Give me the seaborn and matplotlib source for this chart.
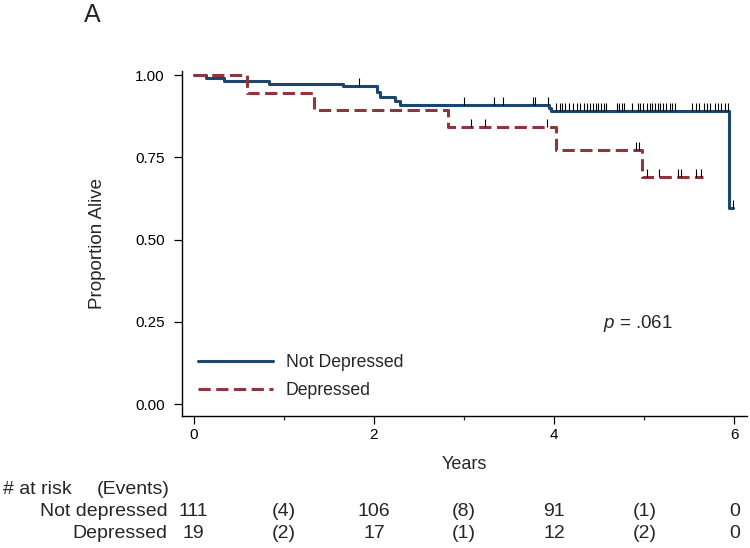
import numpy as np
import pandas as pd
import matplotlib
matplotlib.use('Agg')
import matplotlib.pyplot as plt
import matplotlib.transforms as mtransforms
import seaborn as sns

sns.set_style('ticks')
plt.rcParams['font.family'] = ['Liberation Sans', 'DejaVu Sans']
plt.rcParams['mathtext.fontset'] = 'custom'
plt.rcParams['mathtext.it'] = 'Liberation Sans:italic'
plt.rcParams['mathtext.rm'] = 'Liberation Sans'

# Kaplan-Meier steps
nd_time = [0, 0.14, 0.34, 0.83, 1.66, 2.03, 2.07, 2.23, 2.29, 3.94, 3.97, 5.94, 5.98]
nd_surv = [1.0, 0.991, 0.982, 0.973, 0.966, 0.95, 0.935, 0.92, 0.91, 0.899, 0.89, 0.595, 0.595]
dep_time = [0, 0.59, 1.34, 2.82, 4.02, 4.97, 5.65]
dep_surv = [1.0, 0.947, 0.895, 0.842, 0.772, 0.689, 0.689]

# censoring times
nd_cens = [1.83, 3.00, 3.33, 3.43, 3.77, 3.79, 3.93,
           4.02, 4.06, 4.09, 4.12, 4.16, 4.21, 4.25, 4.29, 4.33, 4.36, 4.40, 4.43,
           4.46, 4.49, 4.52, 4.55, 4.58,
           4.70, 4.72, 4.75, 4.78, 4.86, 4.93, 4.95, 4.99, 5.03, 5.06, 5.09, 5.12,
           5.15, 5.18, 5.21, 5.24, 5.28, 5.31, 5.34,
           5.53, 5.57, 5.61, 5.66, 5.70, 5.73, 5.78, 5.82, 5.85, 5.90, 5.93, 5.98]
dep_cens = [3.08, 3.23, 3.92, 4.91, 4.94, 5.03, 5.16, 5.37, 5.41, 5.57, 5.63]

# risk table
risk_times = [0, 2, 4, 6]
event_times = [1, 3, 5]
nd_risk = [111, 106, 91, 0]
nd_events = [4, 8, 1]
dep_risk = [19, 17, 12, 0]
dep_events = [2, 1, 2]

navy = '#1a476f'
red = '#90353b'


def surv_at(times, surv, t):
    idx = np.searchsorted(times, t, side='right') - 1
    return np.asarray(surv)[idx]


fig = plt.figure(figsize=(7.5, 5.48), dpi=100)
ax = fig.add_axes([0.2427, 0.241, 0.7533, 0.629])

df_nd = pd.DataFrame({'t': nd_time, 's': nd_surv})
df_dep = pd.DataFrame({'t': dep_time, 's': dep_surv})
sns.lineplot(data=df_nd, x='t', y='s', ax=ax, color=navy, lw=2.2,
             drawstyle='steps-post', label='Not Depressed')
sns.lineplot(data=df_dep, x='t', y='s', ax=ax, color=red, lw=2.2,
             drawstyle='steps-post', dashes=False, label='Depressed')
ax.lines[1].set_dashes((4, 1.8))

ax.plot(nd_cens, surv_at(nd_time, nd_surv, nd_cens), ls='none', marker=2,
        ms=6, mew=0.8, color='black')
ax.plot(dep_cens, surv_at(dep_time, dep_surv, dep_cens), ls='none', marker=2,
        ms=6, mew=0.8, color='black')

ax.set_xlim(-0.13, 6.14)
ax.set_ylim(-0.036, 1.012)
ax.set_xticks([0, 2, 4, 6])
ax.set_xticks([1, 3, 5], minor=True)
ax.set_yticks([0, 0.25, 0.5, 0.75, 1.0])
ax.set_yticklabels(['0.00', '0.25', '0.50', '0.75', '1.00'])
ax.tick_params(axis='both', which='major', labelsize=11, length=5.5, width=0.9, colors='black')
ax.tick_params(axis='y', pad=7)
ax.tick_params(axis='x', pad=3.5)
ax.tick_params(axis='x', which='minor', length=3, width=0.9)
for s in ['left', 'bottom']:
    ax.spines[s].set_linewidth(1.0)
    ax.spines[s].set_color('black')
sns.despine(ax=ax)

ax.set_xlabel('Years', fontsize=13, labelpad=10)
ax.set_ylabel('Proportion Alive', fontsize=13.5, labelpad=21)

leg = ax.legend(loc='lower left', bbox_to_anchor=(0.0135, 0.024), frameon=False,
                fontsize=12.7, handlelength=4.2, handletextpad=0.74, labelspacing=0.6,
                borderpad=0)

ax.text(4.54, 0.245, '$p$ = .061', fontsize=13.5, va='center', ha='left')

fig.text(0.123, 0.972, 'A', fontsize=18, va='center', ha='center')

trans = mtransforms.blended_transform_factory(ax.transData, fig.transFigure)
fs = 14
y_head = 1 - 490 / 548
y_nd = 1 - 512 / 548
y_dep = 1 - 534 / 548
fig.text(0.004, y_head, '# at risk', fontsize=fs, va='center', ha='left')
fig.text(0.129, y_head, '(Events)', fontsize=fs, va='center', ha='left')
fig.text(0.223, y_nd, 'Not depressed', fontsize=fs, va='center', ha='right')
fig.text(0.223, y_dep, 'Depressed', fontsize=fs, va='center', ha='right')
for t, n in zip(risk_times, nd_risk):
    fig.text(t, y_nd, str(n), transform=trans, fontsize=fs, va='center', ha='center')
for t, n in zip(risk_times, dep_risk):
    fig.text(t, y_dep, str(n), transform=trans, fontsize=fs, va='center', ha='center')
for t, n in zip(event_times, nd_events):
    fig.text(t, y_nd, f'({n})', transform=trans, fontsize=fs, va='center', ha='center')
for t, n in zip(event_times, dep_events):
    fig.text(t, y_dep, f'({n})', transform=trans, fontsize=fs, va='center', ha='center')

fig.savefig('out.png', dpi=100)
